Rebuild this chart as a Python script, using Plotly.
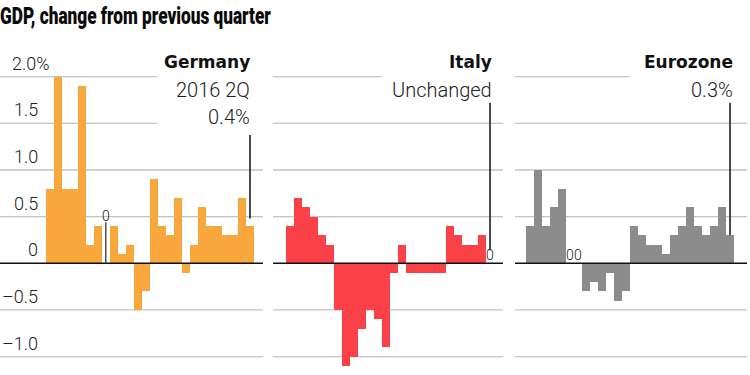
import plotly.graph_objects as go

W, H = 750, 375

quarters = [f"{y}Q{q}" for y in range(2010, 2017) for q in range(1, 5)][:26]

germany = [0.8, 2.0, 0.8, 0.8, 1.9, 0.2, 0.4, 0.0, 0.4, 0.1, 0.2, -0.5, -0.3,
           0.9, 0.4, 0.3, 0.7, -0.1, 0.2, 0.6, 0.4, 0.4, 0.3, 0.3, 0.7, 0.4]
italy = [0.4, 0.7, 0.6, 0.5, 0.3, 0.2, -0.5, -1.1, -1.0, -0.7, -0.5, -0.6, -0.9,
         -0.1, 0.2, -0.1, -0.1, -0.1, -0.1, -0.1, 0.4, 0.3, 0.2, 0.2, 0.3, 0.0]
eurozone = [0.4, 1.0, 0.4, 0.6, 0.8, 0.0, 0.0, -0.3, -0.2, -0.3, -0.1, -0.4, -0.3,
            0.4, 0.3, 0.2, 0.2, 0.1, 0.3, 0.4, 0.6, 0.4, 0.3, 0.4, 0.6, 0.3]

tick_vals = [-1.0, -0.5, 0.0, 0.5, 1.0, 1.5, 2.0]
tick_text = ["–1.0", "–0.5", "0", "0.5", "1.0", "1.5", "2.0%"]

panel_names = ["Germany", "Italy", "Eurozone"]
panel_notes = [["2016 2Q", "0.4%"], ["Unchanged"], ["0.3%"]]
colors = ["#F8A73C", "#FB4148", "#8C8C8C"]

TITLE = "GDP, change from previous quarter"

# layout geometry (pixels)
bar_px = [(45.7, 254), (286, 494), (526, 734)]
grid_px = [(0, 263), (273, 503), (515, 747)]
grid_trunc = [157, 382, 630]   # right end of the top gridlines (under the labels)
y0_px, y2_px = 263.3, 76.7
per_unit = (y0_px - y2_px) / 2.0
yrange = [-(H - y0_px) / per_unit, 2.0 + y2_px / per_unit]

def px(xp):
    return xp / W

def py(yp):
    return 1 - yp / H

NUMFONT = "Roboto, Lato, sans-serif"
BOLDFONT = "DejaVu Sans, Verdana, sans-serif"
TITLEFONT = "Roboto, sans-serif"

fig = go.Figure()
series = [germany, italy, eurozone]
for i, vals in enumerate(series):
    xa = "x" if i == 0 else f"x{i+1}"
    fig.add_trace(go.Bar(x=quarters, y=vals, xaxis=xa, yaxis="y",
                         marker=dict(color=colors[i], line=dict(width=0)),
                         width=1.0, showlegend=False, hoverinfo="x+y"))

shapes = []
annotations = []

# gridlines + zero lines
for i in range(3):
    x0, x1 = grid_px[i]
    for v in tick_vals:
        if v == 0:
            continue
        right = grid_trunc[i] if v >= 1.5 and (i == 0 or v == 2.0) else x1
        shapes.append(dict(type="line", xref="paper", yref="y",
                           x0=px(x0), x1=px(right), y0=v, y1=v,
                           line=dict(color="#C4C4C4", width=1.3), layer="below"))
    shapes.append(dict(type="line", xref="paper", yref="y",
                       x0=px(x0), x1=px(x1), y0=0, y1=0,
                       line=dict(color="#111111", width=1.6), layer="above"))

numfont = lambda s: dict(family=NUMFONT, size=s, color="#222", weight=300)

# tick labels
for v, t in zip(tick_vals, tick_text):
    if t.endswith("%"):
        annotations.append(dict(text=t, xref="paper", yref="y", x=px(10), y=v,
                                xanchor="left", yanchor="bottom", showarrow=False,
                                yshift=1, font=numfont(18)))
    else:
        annotations.append(dict(text=t, xref="paper", yref="y", x=px(40), y=v,
                                xanchor="right", yanchor="bottom", showarrow=False,
                                yshift=1, font=numfont(18)))

# panel labels
label_right = [252, 494, 735]
for i in range(3):
    annotations.append(dict(text=f"<b>{panel_names[i]}</b>", xref="paper", yref="paper",
                            x=px(label_right[i]), y=py(62), xanchor="right", yanchor="middle",
                            showarrow=False, font=dict(family=BOLDFONT, size=17, color="#111")))
    for j, note in enumerate(panel_notes[i]):
        annotations.append(dict(text=note, xref="paper", yref="paper",
                                x=px(label_right[i]), y=py(90 + 27 * j), xanchor="right",
                                yanchor="middle", showarrow=False, font=numfont(20)))

# leader lines to latest quarter
last = quarters[-1]
leader_top = [1.375, 1.72, 1.72]
leader_bottom = [germany[-1] + 0.08, italy[-1] + 0.14, eurozone[-1]]
for i in range(3):
    xr = "x" if i == 0 else f"x{i+1}"
    shapes.append(dict(type="line", xref=xr, yref="y", x0=last, x1=last,
                       y0=leader_bottom[i], y1=leader_top[i],
                       line=dict(color="#111", width=1.5)))

# zero-value markers
for i, vals in enumerate(series):
    xr = "x" if i == 0 else f"x{i+1}"
    for k, v in enumerate(vals):
        if v == 0:
            stem = (i == 0)
            if stem:
                shapes.append(dict(type="line", xref=xr, yref="y", x0=quarters[k], x1=quarters[k],
                                   y0=0, y1=0.44, line=dict(color="#333", width=1.3)))
            annotations.append(dict(text="0", xref=xr, yref="y", x=quarters[k],
                                    y=0.44 if stem else 0.0, xanchor="center", yanchor="bottom",
                                    showarrow=False, yshift=-4 if stem else -2,
                                    font=numfont(14)))

# title
annotations.append(dict(text=TITLE, xref="paper", yref="paper", x=0, y=py(16),
                        xanchor="left", yanchor="middle", showarrow=False,
                        font=dict(family=TITLEFONT, size=24, color="#0a0a0a", weight=900)))

axis_common = dict(range=[-0.5, 25.5], showgrid=False, zeroline=False, showticklabels=False,
                   ticks="", showline=False, fixedrange=True)
fig.update_layout(
    width=W, height=H, margin=dict(l=0, r=0, t=0, b=0),
    paper_bgcolor="white", plot_bgcolor="rgba(0,0,0,0)",
    bargap=0, barmode="overlay",
    xaxis=dict(domain=[px(bar_px[0][0]), px(bar_px[0][1])], anchor="y", **axis_common),
    xaxis2=dict(domain=[px(bar_px[1][0]), px(bar_px[1][1])], anchor="y", **axis_common),
    xaxis3=dict(domain=[px(bar_px[2][0]), px(bar_px[2][1])], anchor="y", **axis_common),
    yaxis=dict(range=yrange, domain=[0, 1], visible=False, fixedrange=True),
    shapes=shapes, annotations=annotations,
)

# condensed look for the title: squeeze horizontally, keep left edge at 0
post = """
document.body.style.margin = '0';
document.body.style.overflow = 'hidden';
document.querySelectorAll('text.annotation-text').forEach(function (e) {
  if (e.textContent === %r) {
    var bb = e.getBBox();
    var sx = 271 / bb.width;
    var ctm = e.getScreenCTM();
    var dx = 0;
    if (ctm) { dx = -(ctm.e + bb.x * ctm.a); }
    e.setAttribute('transform', 'translate(' + (bb.x * (1 - sx) + dx) + ',0) scale(' + sx + ',1)');
  }
});
""" % TITLE

fig.write_html("out.html", post_script=post, config={"displayModeBar": False})
